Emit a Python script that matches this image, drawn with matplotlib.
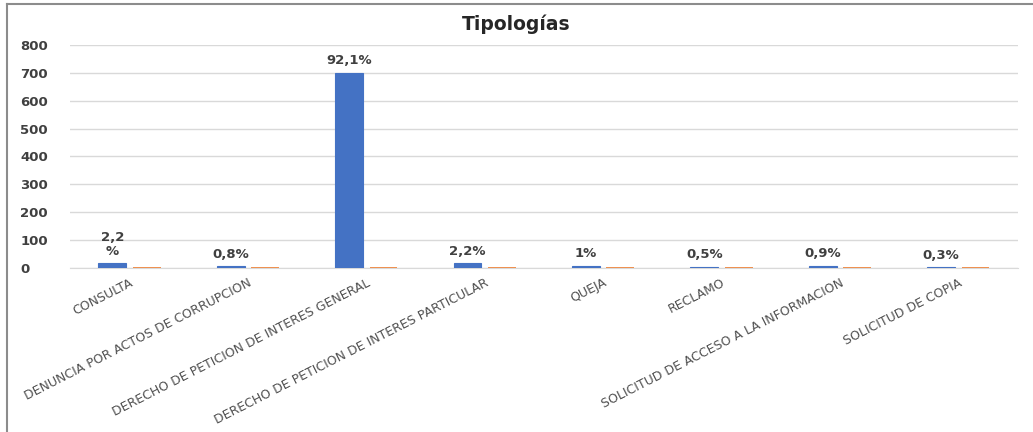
import matplotlib.pyplot as plt
import numpy as np
from matplotlib.lines import Line2D

# --- data ---
categorias = [
    'CONSULTA',
    'DENUNCIA POR ACTOS DE CORRUPCION',
    'DERECHO DE PETICION DE INTERES GENERAL',
    'DERECHO DE PETICION DE INTERES PARTICULAR',
    'QUEJA',
    'RECLAMO',
    'SOLICITUD DE ACCESO A LA INFORMACION',
    'SOLICITUD DE COPIA',
]
cantidad = [17, 6, 700, 17, 8, 4, 7, 2]
porcentaje = [2.2, 0.8, 92.1, 2.2, 1.0, 0.5, 0.9, 0.3]
etiquetas = ['2,2\n%', '0,8%', '92,1%', '2,2%', '1%', '0,5%', '0,9%', '0,3%']
y_ticks = [0, 100, 200, 300, 400, 500, 600, 700, 800]

AZUL = '#4472C4'
NARANJA = '#ED7D31'

plt.rcParams['font.family'] = ['DejaVu Sans']

fig = plt.figure(figsize=(10.33, 4.32), dpi=100)
ax = fig.add_axes([0.068, 0.380, 0.917, 0.516])

x = np.arange(len(categorias))
ancho = 0.235
sep = 0.145

ax.bar(x - sep, cantidad, width=ancho, color=AZUL, edgecolor=AZUL, linewidth=0.8, zorder=3)
# second series holds the share as a fraction, so it stays flat on the axis
ax.bar(x + sep, [p / 100 for p in porcentaje], width=ancho, color=NARANJA,
       edgecolor=NARANJA, linewidth=1.2, zorder=3)

for xi, v, txt in zip(x, cantidad, etiquetas):
    ax.annotate(txt, (xi - sep, v), xytext=(0, 4), textcoords='offset points',
                ha='center', va='bottom', fontsize=9.5, fontweight='bold',
                color='#404040', linespacing=1.05)

ax.set_xlim(-0.5, len(categorias) - 0.5)
ax.set_ylim(0, 800)
ax.set_yticks(y_ticks)
ax.set_yticklabels([str(t) for t in y_ticks], fontsize=9.5, fontweight='bold', color='#404040')
ax.set_xticks(x)
ax.set_xticklabels(categorias, rotation=27, ha='right', rotation_mode='anchor',
                   fontsize=9, color='#505050')
ax.tick_params(axis='both', length=0)
ax.tick_params(axis='y', pad=36)
ax.tick_params(axis='x', pad=6)
for lbl in ax.get_yticklabels():
    lbl.set_horizontalalignment('left')

ax.grid(axis='y', color='#D9D9D9', linewidth=1, zorder=0)
for s in ['top', 'right', 'left']:
    ax.spines[s].set_visible(False)
ax.spines['bottom'].set_color('#D9D9D9')

fig.text(0.5, 0.945, 'Tipologías', ha='center', va='center', fontsize=13.5,
         fontweight='bold', color='#262626')

# chart border (left and top edges only)
borde = dict(transform=fig.transFigure, color='#8C8C8C', linewidth=1.5)
fig.lines.append(Line2D([6.5 / 1033, 6.5 / 1033], [0, 1 - 3.5 / 432], **borde))
fig.lines.append(Line2D([6.5 / 1033, 1], [1 - 3.5 / 432, 1 - 3.5 / 432], **borde))

fig.savefig('out.png', dpi=100)
